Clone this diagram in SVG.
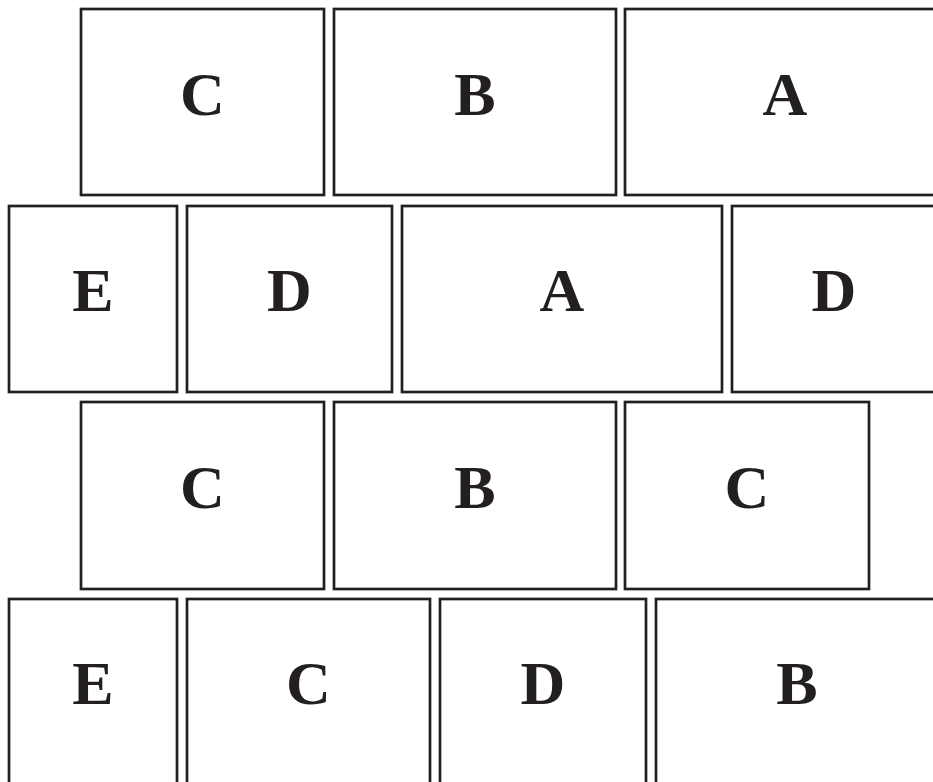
<svg xmlns="http://www.w3.org/2000/svg" width="933" height="782" viewBox="0 0 933 782">
<style>
.b{fill:#fff;stroke:#231f20;stroke-width:2.7}
.t{font-family:"Liberation Serif",serif;font-weight:bold;font-size:62px;fill:#231f20;text-anchor:middle}
</style>
<rect width="933" height="782" fill="#fff"/>
<g id="r1c"><rect class="b" x="81" y="9" width="243" height="186"/><text class="t" x="202.5" y="115">C</text></g>
<g id="r1b"><rect class="b" x="334" y="9" width="282" height="186"/><text class="t" x="475" y="115">B</text></g>
<g id="r1a"><rect class="b" x="625" y="9" width="320" height="186"/><text class="t" x="785" y="115">A</text></g>
<g id="r2e"><rect class="b" x="9" y="206" width="168" height="186"/><text class="t" x="93" y="311">E</text></g>
<g id="r2d"><rect class="b" x="187" y="206" width="205" height="186"/><text class="t" x="289.5" y="311">D</text></g>
<g id="r2a"><rect class="b" x="402" y="206" width="320" height="186"/><text class="t" x="562" y="311">A</text></g>
<g id="r2d2"><rect class="b" x="732" y="206" width="210" height="186"/><text class="t" x="834" y="311">D</text></g>
<g id="r3c"><rect class="b" x="81" y="402" width="243" height="187"/><text class="t" x="202.5" y="508">C</text></g>
<g id="r3b"><rect class="b" x="334" y="402" width="282" height="187"/><text class="t" x="475" y="508">B</text></g>
<g id="r3c2"><rect class="b" x="625" y="402" width="244" height="187"/><text class="t" x="747" y="508">C</text></g>
<g id="r4e"><rect class="b" x="9" y="599" width="168" height="200"/><text class="t" x="93" y="704">E</text></g>
<g id="r4c"><rect class="b" x="187" y="599" width="243" height="200"/><text class="t" x="308.5" y="704">C</text></g>
<g id="r4d"><rect class="b" x="440" y="599" width="206" height="200"/><text class="t" x="543" y="704">D</text></g>
<g id="r4b"><rect class="b" x="656" y="599" width="290" height="200"/><text class="t" x="797" y="704">B</text></g>
<g id="connectors"></g>
</svg>
